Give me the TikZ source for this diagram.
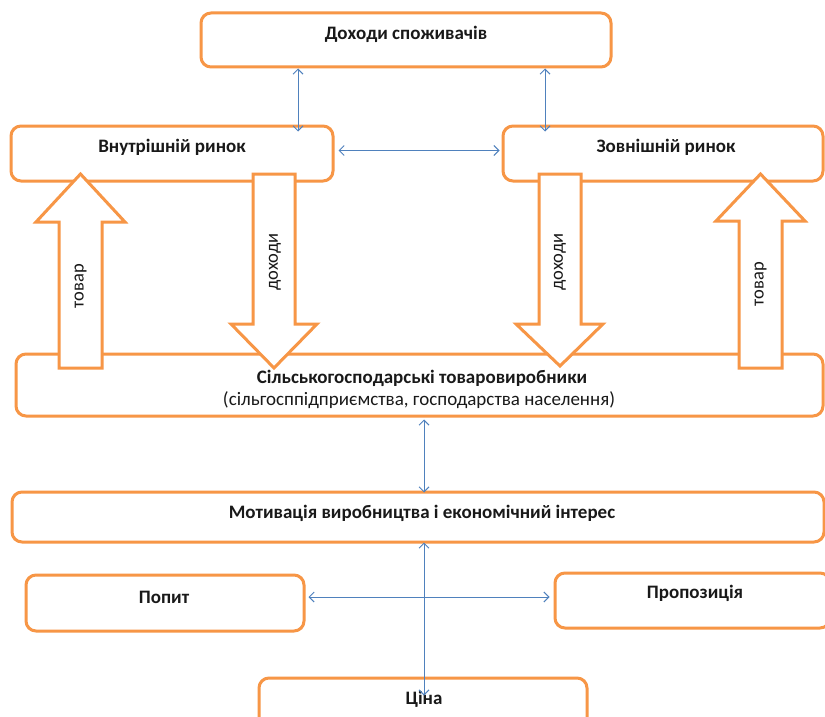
\documentclass[tikz,border=0pt]{standalone}
\usepackage{fontspec}
\setmainfont{Carlito}
\usetikzlibrary{arrows.meta}
\definecolor{orng}{HTML}{F79646}
\definecolor{blu}{HTML}{4F81BD}
\begin{document}
\begin{tikzpicture}[x=1pt,y=-1pt,
 obox/.style={draw=orng,line width=3pt,rounded corners=10pt,fill=white,inner sep=0pt},
 btxt/.style={font=\fontsize{19}{22}\selectfont\bfseries,inner sep=0pt,text=black!90},
 rtxt/.style={font=\fontsize{19}{22}\selectfont,inner sep=0pt,text=black!90},
 vtxt/.style={font=\fontsize{18.5}{22}\selectfont,rotate=90,inner sep=0pt,text=black!90},
 barrow/.style={draw=orng,line width=3pt,fill=white,line join=miter},
 link/.style={draw=blu,line width=1pt,{Straight Barb[length=5pt,width=10pt]}-{Straight Barb[length=5pt,width=10pt]}}]
\useasboundingbox (0,0) rectangle (825,717);
\clip (0,0) rectangle (825,717);
\fill[white] (0,0) rectangle (825,717);
% boxes
\node[obox,minimum width=410pt,minimum height=54pt] (dohody) at (406,40) {};
\node[obox,minimum width=322pt,minimum height=55pt] (vnut) at (172,153.5) {};
\node[obox,minimum width=320pt,minimum height=55pt] (zovn) at (663,153.5) {};
\node[obox,minimum width=807pt,minimum height=62pt] (silsk) at (419.5,385) {};
\node[obox,minimum width=812pt,minimum height=50pt] (motyv) at (418,517) {};
\node[obox,minimum width=278pt,minimum height=56pt] (popyt) at (165,603) {};
\node[obox,minimum width=275pt,minimum height=55pt] (propoz) at (692.5,600.5) {};
\node[obox,minimum width=328pt,minimum height=62pt] (tsina) at (423,709) {};
% block arrows
\draw[barrow] (59,368) -- (59,222) -- (36,222) -- (80.5,174) -- (125,222) -- (102,222) -- (102,368) -- cycle;
\draw[barrow] (253,174) -- (295,174) -- (295,324) -- (317,324) -- (274,368) -- (231,324) -- (253,324) -- cycle;
\draw[barrow] (539,174) -- (581,174) -- (581,324) -- (603,324) -- (560,366) -- (516,324) -- (539,324) -- cycle;
\draw[barrow] (739,368) -- (739,221) -- (716,221) -- (760.5,174) -- (805,221) -- (782,221) -- (782,368) -- cycle;
% texts
\node[btxt] (tdohody) at (406,34) {Доходи споживачів};
\node[btxt] (tvnut) at (172,147) {Внутрішній ринок};
\node[btxt] (tzovn) at (666,147) {Зовнішній ринок};
\node[btxt] (tsilsk1) at (422,378) {Сільськогосподарські товаровиробники};
\node[rtxt] (tsilsk2) at (419,400) {(сільгосппідприємства, господарства населення)};
\node[btxt] (tmotyv) at (422,513) {Мотивація виробництва і економічний інтерес};
\node[btxt] (tpopyt) at (164,597) {Попит};
\node[btxt] (tpropoz) at (695,593) {Пропозиція};
\node[btxt] (ttsina) at (424,699) {Ціна};
\node[vtxt] (ttovar1) at (80.5,286) {товар};
\node[vtxt] (tdoh1) at (275,262) {доходи};
\node[vtxt] (tdoh2) at (560,262) {доходи};
\node[vtxt] (ttovar2) at (760.5,284) {товар};
% connectors
\draw[link] ([xshift=-108pt]dohody.south) -- ([xshift=126pt,yshift=-7pt]vnut.north);
\draw[link] ([xshift=139pt]dohody.south) -- ([xshift=-118pt,yshift=-7pt]zovn.north);
\draw[link] ([xshift=4pt,yshift=3pt]vnut.east) -- ([xshift=-2pt,yshift=3pt]zovn.west);
\draw[link] ([xshift=4.5pt,yshift=-2pt]silsk.south) -- ([xshift=6pt,yshift=-2pt]motyv.north);
\draw[link] ([xshift=6pt,yshift=1pt]motyv.south) -- ([xshift=1pt,yshift=-19pt]tsina.north);
\draw[link] ([xshift=3pt,yshift=6pt]popyt.east) -- ([xshift=-4pt,yshift=3.5pt]propoz.west);
\end{tikzpicture}
\end{document}
